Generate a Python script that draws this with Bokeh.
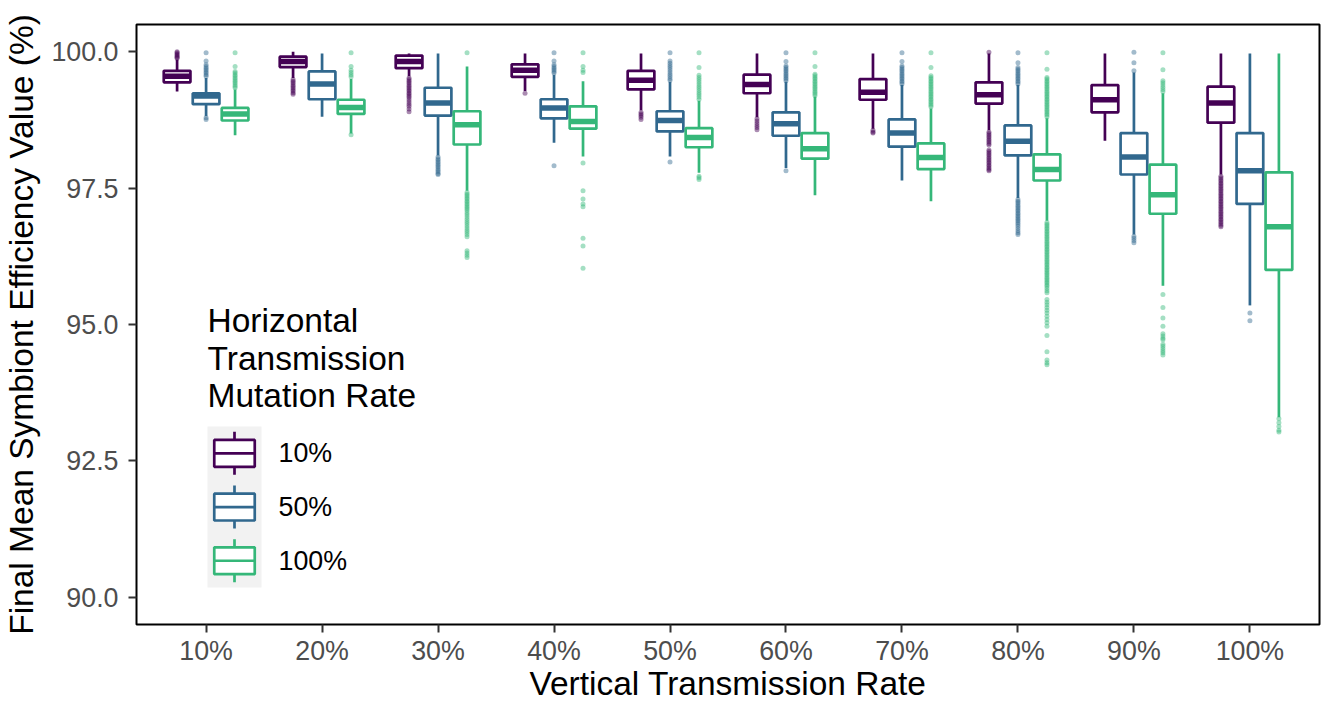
from bokeh.plotting import figure
from bokeh.models import Range1d, FixedTicker, Label, NumeralTickFormatter
from bokeh.embed import file_html
from bokeh.resources import INLINE

# ---------------- data ----------------
vertical_rates = ["10%", "20%", "30%", "40%", "50%", "60%", "70%", "80%", "90%", "100%"]
horizontal_rates = ["10%", "50%", "100%"]
y_ticks = [90.0, 92.5, 95.0, 97.5, 100.0]

# Horizontal Transmission Mutation Rate = 10%
lo_h10 = [99.27, 99.52, 99.55, 99.28, 98.93, 98.80, 98.59, 98.56, 98.37, 97.75]
q1_h10 = [99.44, 99.72, 99.70, 99.54, 99.31, 99.24, 99.12, 99.05, 98.89, 98.70]
md_h10 = [99.55, 99.82, 99.82, 99.66, 99.48, 99.40, 99.26, 99.21, 99.12, 99.06]
q3_h10 = [99.65, 99.91, 99.93, 99.77, 99.65, 99.58, 99.50, 99.44, 99.39, 99.36]
hi_h10 = [99.86, 100.0, 99.97, 99.97, 99.97, 99.97, 99.97, 99.97, 99.97, 99.97]
out_h10 = [
    [99.88, 99.90, 99.92, 99.94, 99.96, 99.98, 100.0],
    [99.49, 99.46, 99.43, 99.40, 99.37, 99.34, 99.31, 99.28, 99.25, 99.22],
    [99.52, 99.49, 99.46, 99.43, 99.40, 99.37, 99.34, 99.31, 99.28, 99.25, 99.22, 99.19,
     99.16, 99.12, 99.08, 99.04, 99.00, 98.95, 98.90],
    [99.24],
    [98.89, 98.86, 98.83, 98.80, 98.76],
    [98.77, 98.73, 98.69, 98.65, 98.61, 98.57],
    [98.56, 98.53, 98.51],
    [99.99, 98.53, 98.50, 98.47, 98.44, 98.41, 98.38, 98.35, 98.32, 98.29, 98.20, 98.17,
     98.14, 98.11, 98.08, 98.05, 98.02, 97.99, 97.96, 97.93, 97.90, 97.87, 97.84, 97.82],
    [],
    [97.72, 97.69, 97.66, 97.63, 97.60, 97.57, 97.54, 97.51, 97.48, 97.45, 97.42, 97.39,
     97.36, 97.33, 97.30, 97.27, 97.24, 97.21, 97.18, 97.15, 97.12, 97.09, 97.06, 97.03,
     97.00, 96.97, 96.94, 96.91, 96.88, 96.85, 96.82, 96.79],
]

# Horizontal Transmission Mutation Rate = 50%
lo_h50 = [98.82, 98.81, 98.10, 98.33, 98.08, 97.87, 97.64, 97.32, 96.65, 95.35]
q1_h50 = [99.04, 99.13, 98.83, 98.78, 98.54, 98.46, 98.26, 98.10, 97.75, 97.21]
md_h50 = [99.19, 99.41, 99.06, 98.97, 98.74, 98.68, 98.51, 98.36, 98.07, 97.82]
q3_h50 = [99.24, 99.64, 99.34, 99.13, 98.91, 98.89, 98.76, 98.65, 98.51, 98.51]
hi_h50 = [99.52, 99.97, 99.97, 99.58, 99.45, 99.45, 99.39, 99.39, 99.62, 99.97]
out_h50 = [
    [99.98, 99.83, 99.76, 99.73, 99.70, 99.67, 99.64, 99.61, 99.58, 99.55, 98.79, 98.76],
    [],
    [98.07, 98.04, 98.01, 97.98, 97.95, 97.92, 97.89, 97.86, 97.83, 97.80, 97.77, 97.75],
    [99.98, 99.83, 99.76, 99.73, 99.70, 99.67, 99.64, 99.61, 97.91],
    [99.98, 99.83, 99.79, 99.75, 99.71, 99.67, 99.63, 99.59, 99.55, 99.51, 99.48, 97.98],
    [99.98, 99.82, 99.74, 99.71, 99.68, 99.65, 99.62, 99.59, 99.56, 99.53, 99.50, 99.47, 97.82],
    [99.98, 99.82, 99.74, 99.71, 99.68, 99.65, 99.62, 99.59, 99.56, 99.53, 99.50, 99.47,
     99.44, 99.41],
    [99.98, 99.80, 99.71, 99.68, 99.65, 99.62, 99.59, 99.56, 99.53, 99.50, 99.47, 99.44,
     99.41, 97.29, 97.26, 97.23, 97.20, 97.17, 97.14, 97.11, 97.08, 97.05, 97.02, 96.99,
     96.96, 96.93, 96.90, 96.87, 96.84, 96.80, 96.76, 96.72, 96.68, 96.65],
    [99.99, 99.80, 99.65, 96.62, 96.58, 96.54, 96.50],
    [95.21, 95.07],
]

# Horizontal Transmission Mutation Rate = 100%
lo_h100 = [98.47, 98.50, 97.45, 98.08, 97.78, 97.37, 97.26, 96.90, 95.71, 93.30]
q1_h100 = [98.74, 98.86, 98.30, 98.59, 98.25, 98.04, 97.85, 97.64, 97.03, 96.00]
md_h100 = [98.86, 98.98, 98.66, 98.72, 98.43, 98.22, 98.06, 97.84, 97.38, 96.79]
q3_h100 = [98.97, 99.12, 98.91, 99.00, 98.60, 98.51, 98.32, 98.12, 97.93, 97.79]
hi_h100 = [99.31, 99.50, 99.73, 99.46, 99.10, 99.18, 98.96, 98.78, 99.24, 99.97]
out_h100 = [
    [99.98, 99.73, 99.64, 99.61, 99.58, 99.55, 99.52, 99.49, 99.46, 99.43, 99.40, 99.37, 99.34],
    [99.98, 99.73, 99.66, 99.62, 99.58, 99.54, 98.48],
    [99.98, 97.42, 97.39, 97.36, 97.33, 97.30, 97.27, 97.24, 97.21, 97.18, 97.15, 97.12,
     97.09, 97.05, 97.01, 96.97, 96.93, 96.89, 96.85, 96.81, 96.77, 96.73, 96.69, 96.65,
     96.61, 96.35, 96.31, 96.27, 96.23],
    [99.98, 99.73, 99.66, 99.62, 97.96, 97.45, 97.30, 97.21, 97.16, 96.58, 96.44, 96.03],
    [99.98, 99.71, 99.57, 99.53, 99.49, 99.45, 99.41, 99.37, 99.33, 99.29, 99.25, 99.21,
     99.17, 99.13, 97.72, 97.69, 97.66],
    [99.98, 99.73, 99.59, 99.56, 99.53, 99.50, 99.47, 99.44, 99.41, 99.38, 99.35, 99.32,
     99.29, 99.26, 99.23, 99.20],
    [99.98, 99.71, 99.56, 99.53, 99.50, 99.47, 99.44, 99.41, 99.38, 99.35, 99.32, 99.29,
     99.26, 99.23, 99.20, 99.17, 99.14, 99.11, 99.08, 99.05, 99.02, 98.99],
    [99.98, 99.68, 99.53, 99.50, 99.47, 99.44, 99.41, 99.38, 99.35, 99.32, 99.29, 99.26,
     99.23, 99.20, 99.17, 99.14, 99.11, 99.08, 99.05, 99.02, 98.99, 98.96, 98.93, 98.90,
     98.87, 98.84, 98.81,
     96.87, 96.84, 96.81, 96.78, 96.75, 96.72, 96.69, 96.66, 96.63, 96.60, 96.57, 96.54,
     96.51, 96.48, 96.45, 96.42, 96.39, 96.36, 96.33, 96.30, 96.27, 96.24, 96.21, 96.18,
     96.15, 96.12, 96.09, 96.06, 96.03, 96.00, 95.97, 95.94, 95.91, 95.88, 95.85, 95.82,
     95.79, 95.76, 95.73, 95.70, 95.66, 95.62, 95.58, 95.46, 95.41, 95.36, 95.31, 95.26,
     95.21, 95.15, 95.09, 95.03, 94.97, 94.80, 94.50, 94.35, 94.30, 94.26],
    [99.98, 99.67, 99.47, 99.43, 99.39, 99.35, 99.31, 99.27, 95.55, 95.31, 95.12, 94.97,
     94.83, 94.79, 94.75, 94.72, 94.64, 94.60, 94.56, 94.52, 94.48, 94.44],
    [93.27, 93.20, 93.13, 93.06, 93.03],
]

series_stats = [
    (lo_h10, q1_h10, md_h10, q3_h10, hi_h10, out_h10),
    (lo_h50, q1_h50, md_h50, q3_h50, hi_h50, out_h50),
    (lo_h100, q1_h100, md_h100, q3_h100, hi_h100, out_h100),
]

# ---------------- style ----------------
COLORS = ["#440154", "#31688E", "#35B779"]
FONT = "Liberation Sans"
DODGE = 0.25
BOX_W = 0.23
LW = 2.7
MED_LW = 5.5

X_LO, X_HI = 0.4, 10.6
Y_LO, Y_HI = 89.5, 100.5

p = figure(width=1321, height=704,
           x_range=Range1d(X_LO, X_HI), y_range=Range1d(Y_LO, Y_HI),
           output_backend="svg", toolbar_location=None,
           min_border_left=136, min_border_right=2, min_border_top=24, min_border_bottom=80)
p.xgrid.visible = False
p.ygrid.visible = False
p.background_fill_color = "white"
p.border_fill_color = "white"
p.outline_line_color = "black"
p.outline_line_width = 2

for ax in (p.xaxis[0], p.yaxis[0]):
    ax.axis_line_color = None
    ax.major_tick_line_color = "#333333"
    ax.major_tick_line_width = 2
    ax.major_tick_out = 8
    ax.major_tick_in = 0
    ax.minor_tick_line_color = None
    ax.major_label_text_font = FONT
    ax.major_label_text_font_size = "26.8px"
    ax.major_label_text_color = "#4D4D4D"
    ax.axis_label_text_font = FONT
    ax.axis_label_text_font_size = "33.5px"
    ax.axis_label_text_font_style = "normal"
    ax.axis_label_text_color = "black"

p.xaxis.ticker = FixedTicker(ticks=list(range(1, len(vertical_rates) + 1)))
p.xaxis.major_label_overrides = {i + 1: lab for i, lab in enumerate(vertical_rates)}
p.xaxis.axis_label = "Vertical Transmission Rate"
p.xaxis.major_label_standoff = 3
p.xaxis.axis_label_standoff = -4

p.yaxis.ticker = FixedTicker(ticks=y_ticks)
p.yaxis.formatter = NumeralTickFormatter(format="0.0")
p.yaxis.axis_label = "Final Mean Symbiont Efficiency Value (%)"
p.yaxis.major_label_standoff = 10
p.yaxis.axis_label_standoff = 8

# ---------------- boxes ----------------
for s, (lo, q1, md, q3, hi, outs) in enumerate(series_stats):
    c = COLORS[s]
    off = (s - 1) * DODGE
    xs = [i + 1 + off for i in range(len(vertical_rates))]
    ox, oy = [], []
    for i, vals in enumerate(outs):
        ox += [xs[i]] * len(vals)
        oy += vals
    p.scatter(ox, oy, size=5, fill_color=c, fill_alpha=0.45, line_color=None)
    p.segment(xs, hi, xs, q3, line_color=c, line_width=LW)
    p.segment(xs, lo, xs, q1, line_color=c, line_width=LW)
    p.vbar(x=xs, width=BOX_W, top=q3, bottom=q1, fill_color="white",
           line_color=c, line_width=LW)
    p.segment([x - BOX_W / 2 for x in xs], md, [x + BOX_W / 2 for x in xs], md,
              line_color=c, line_width=MED_LW, line_cap="butt")

# ---------------- legend (drawn inside the panel) ----------------
FRAME_L, FRAME_R, FRAME_T, FRAME_B = 136.0, 1319.0, 24.0, 624.0

def sx(px):
    return X_LO + (px - FRAME_L) * (X_HI - X_LO) / (FRAME_R - FRAME_L)

def sy(py):
    return Y_HI - (py - FRAME_T) * (Y_HI - Y_LO) / (FRAME_B - FRAME_T)

KEY_L, KEY_W, KEY_T, KEY_H = 207.0, 54.0, 426.0, 53.7
n = len(horizontal_rates)
p.rect(x=[sx(KEY_L + KEY_W / 2)], y=[sy(KEY_T + n * KEY_H / 2)],
       width=KEY_W, height=n * KEY_H, width_units="screen", height_units="screen",
       fill_color="#F2F2F2", line_color=None)
kx = KEY_L + KEY_W / 2
for s, lab in enumerate(horizontal_rates):
    c = COLORS[s]
    ky = KEY_T + KEY_H * (s + 0.5)
    top_px, bot_px = KEY_T + KEY_H * s, KEY_T + KEY_H * (s + 1)
    p.segment([sx(kx)] * 2, [sy(top_px + 0.1 * KEY_H), sy(ky + 0.25 * KEY_H)],
              [sx(kx)] * 2, [sy(ky - 0.25 * KEY_H), sy(bot_px - 0.1 * KEY_H)],
              line_color=c, line_width=LW)
    p.rect(x=[sx(kx)], y=[sy(ky)], width=0.75 * KEY_W, height=0.5 * KEY_H,
           width_units="screen", height_units="screen",
           fill_color="white", line_color=c, line_width=LW)
    p.segment([sx(kx - 0.375 * KEY_W)], [sy(ky)], [sx(kx + 0.375 * KEY_W)], [sy(ky)],
              line_color=c, line_width=LW)
    p.add_layout(Label(x=sx(278), y=sy(ky), text=lab, text_baseline="middle",
                       text_align="left", text_font=FONT, text_font_size="26.8px",
                       text_color="black"))

for line, base in zip(["Horizontal", "Transmission", "Mutation Rate"], [320, 357.5, 395]):
    p.add_layout(Label(x=sx(207), y=sy(base), text=line, text_baseline="alphabetic",
                       text_align="left", text_font=FONT, text_font_size="33.5px",
                       text_color="black"))

open("out.html", "w").write(file_html(p, INLINE))
